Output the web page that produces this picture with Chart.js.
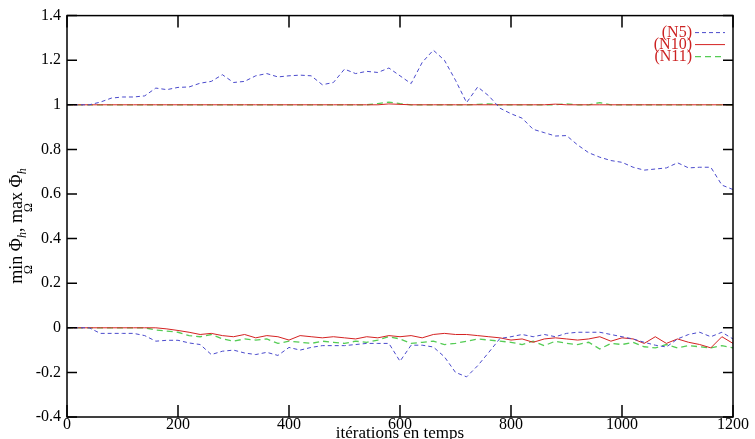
<!DOCTYPE html>
<html>
<head>
<meta charset="utf-8">
<script src="https://cdn.jsdelivr.net/npm/chart.js@4.4.1/dist/chart.umd.min.js"></script>
<style>
  body { margin: 0; background: #fff; }
  canvas { display: block; }
</style>
</head>
<body>
<canvas id="chart" width="755" height="439"></canvas>
<script>
// itérations (pas de 20)
const iterations = [];
for (let i = 0; i <= 1200; i += 20) iterations.push(i);

// max Φh
const n5Max = [1.0, 1.0, 1.0, 1.012, 1.03, 1.035, 1.035, 1.04, 1.075, 1.068,
  1.078, 1.08, 1.097, 1.105, 1.135, 1.1, 1.105, 1.13, 1.14, 1.125,
  1.13, 1.133, 1.13, 1.09, 1.1, 1.16, 1.14, 1.15, 1.145, 1.165,
  1.13, 1.095, 1.19, 1.245, 1.2, 1.11, 1.01, 1.08, 1.04, 0.985,
  0.96, 0.94, 0.89, 0.875, 0.86, 0.862, 0.82, 0.785, 0.765, 0.75,
  0.742, 0.72, 0.707, 0.712, 0.717, 0.74, 0.717, 0.72, 0.72, 0.64, 0.62];
const n10Max = [1, 1, 1, 1, 1, 1, 1, 1, 1, 1,
  1, 1, 1, 1, 1, 1, 1, 1, 1, 1,
  1, 1, 1, 1, 1, 1, 1, 1, 1, 1.004,
  1.002, 1, 1, 1, 1, 1, 1, 1, 1, 1,
  1, 1, 1, 1, 1.003, 1, 1, 1, 1, 1,
  1, 1, 1, 1, 1, 1, 1, 1, 1, 1, 1];
const n11Max = [1, 1, 1, 1, 1, 1, 1, 1, 1, 1,
  1, 1, 1, 1, 1, 1, 1, 1, 1, 1,
  1, 1, 1, 1, 1, 1, 1, 1, 1.005, 1.012,
  1.005, 1, 1, 1, 1, 1, 1, 1.002, 1.004, 1,
  1, 1, 1, 1, 1, 1.004, 1, 1, 1.01, 1,
  1, 1, 1, 1, 1, 1, 1, 1, 1, 1, 1];

// min Φh
const n5Min = [0, 0, 0, -0.025, -0.025, -0.025, -0.025, -0.035, -0.06, -0.056,
  -0.056, -0.068, -0.075, -0.12, -0.105, -0.1, -0.113, -0.12, -0.11, -0.124,
  -0.088, -0.1, -0.088, -0.08, -0.08, -0.08, -0.075, -0.07, -0.07, -0.07,
  -0.15, -0.078, -0.078, -0.086, -0.13, -0.2, -0.22, -0.17, -0.11, -0.048,
  -0.04, -0.03, -0.04, -0.03, -0.04, -0.025, -0.02, -0.02, -0.02, -0.03,
  -0.04, -0.05, -0.065, -0.078, -0.086, -0.05, -0.03, -0.02, -0.04, -0.02, -0.05];
const n10Min = [0, 0, 0, 0, 0, 0, 0, 0, 0, -0.005,
  -0.012, -0.02, -0.03, -0.025, -0.035, -0.04, -0.03, -0.045, -0.035, -0.04,
  -0.055, -0.035, -0.04, -0.045, -0.04, -0.045, -0.05, -0.04, -0.045, -0.035,
  -0.04, -0.035, -0.045, -0.03, -0.025, -0.03, -0.03, -0.035, -0.04, -0.045,
  -0.055, -0.05, -0.065, -0.05, -0.045, -0.05, -0.055, -0.05, -0.04, -0.06,
  -0.045, -0.05, -0.07, -0.04, -0.07, -0.05, -0.065, -0.075, -0.09, -0.04, -0.07];
const n11Min = [0, 0, 0, 0, 0, 0, 0, 0, -0.01, -0.015,
  -0.02, -0.035, -0.04, -0.03, -0.05, -0.06, -0.05, -0.055, -0.05, -0.07,
  -0.06, -0.065, -0.07, -0.06, -0.065, -0.07, -0.06, -0.065, -0.055, -0.04,
  -0.05, -0.07, -0.065, -0.06, -0.075, -0.07, -0.06, -0.05, -0.055, -0.06,
  -0.065, -0.075, -0.06, -0.08, -0.06, -0.07, -0.075, -0.065, -0.095, -0.07,
  -0.075, -0.065, -0.085, -0.09, -0.075, -0.09, -0.08, -0.085, -0.09, -0.08, -0.09];

const xTicks = [0, 200, 400, 600, 800, 1000, 1200];
const yTicks = [-0.4, -0.2, 0, 0.2, 0.4, 0.6, 0.8, 1, 1.2, 1.4];

const serif = '"Liberation Serif", "DejaVu Serif", serif';

function pts(values) {
  return values.map((v, i) => ({ x: iterations[i], y: v }));
}

const styleN5 = { borderColor: '#4a4acc', borderWidth: 1, borderDash: [4, 3] };
const styleN10 = { borderColor: '#d42222', borderWidth: 1, borderDash: [] };
const styleN11 = { borderColor: '#55cc55', borderWidth: 1.3, borderDash: [6, 4] };

const datasets = [
  Object.assign({ label: '(N5)', data: pts(n5Max), inLegend: true }, styleN5),
  Object.assign({ label: '(N10)', data: pts(n10Max), inLegend: true }, styleN10),
  Object.assign({ label: '(N11)', data: pts(n11Max), inLegend: true }, styleN11),
  Object.assign({ label: '(N5) min', data: pts(n5Min) }, styleN5),
  Object.assign({ label: '(N10) min', data: pts(n10Min) }, styleN10),
  Object.assign({ label: '(N11) min', data: pts(n11Min) }, styleN11)
];

// cadre, graduations vers l'intérieur, légende et titre de l'axe y
const framePlugin = {
  id: 'frame',
  afterDraw(chart) {
    const ctx = chart.ctx;
    const a = chart.chartArea;
    const xs = chart.scales.x, ys = chart.scales.y;
    ctx.save();
    ctx.strokeStyle = '#000';
    ctx.lineWidth = 1.5;
    ctx.strokeRect(a.left, a.top, a.right - a.left, a.bottom - a.top);
    ctx.beginPath();
    xTicks.forEach(v => {
      const px = xs.getPixelForValue(v);
      ctx.moveTo(px, a.bottom); ctx.lineTo(px, a.bottom - 12);
      ctx.moveTo(px, a.top); ctx.lineTo(px, a.top + 12);
    });
    yTicks.forEach(v => {
      const py = ys.getPixelForValue(v);
      ctx.moveTo(a.left, py); ctx.lineTo(a.left + 10, py);
      ctx.moveTo(a.right, py); ctx.lineTo(a.right - 10, py);
    });
    ctx.stroke();

    // légende
    ctx.font = '16px ' + serif;
    ctx.textAlign = 'right';
    ctx.textBaseline = 'middle';
    let y = a.top + 17;
    chart.data.datasets.filter(d => d.inLegend).forEach(d => {
      ctx.fillStyle = '#cc2222';
      ctx.fillText(d.label, a.right - 41, y);
      ctx.strokeStyle = d.borderColor;
      ctx.lineWidth = d.borderWidth;
      ctx.setLineDash(d.borderDash);
      ctx.beginPath();
      ctx.moveTo(a.right - 38, y);
      ctx.lineTo(a.right - 8, y);
      ctx.stroke();
      ctx.setLineDash([]);
      y += 12;
    });

    // titre y : min_Ω Φ_h, max_Ω Φ_h
    ctx.translate(22, 0);
    ctx.rotate(-Math.PI / 2);
    const big = '18px ' + serif, small = '12px ' + serif, smallIt = 'italic 12px ' + serif;
    const parts = [
      ['min', big, 0, 'Ω'], [' Φ', big, 0], ['h', smallIt, 4], [', ', big, 0],
      ['max', big, 0, 'Ω'], [' Φ', big, 0], ['h', smallIt, 4]
    ];
    let total = 0;
    parts.forEach(p => { ctx.font = p[1]; total += ctx.measureText(p[0]).width; });
    let x = -(226 + total / 2);
    ctx.textAlign = 'left';
    ctx.textBaseline = 'alphabetic';
    ctx.fillStyle = '#000';
    parts.forEach(p => {
      ctx.font = p[1];
      const w = ctx.measureText(p[0]).width;
      ctx.fillText(p[0], x, p[2]);
      if (p[3]) {
        ctx.font = small;
        ctx.textAlign = 'center';
        ctx.fillText(p[3], x + w / 2, 10);
        ctx.textAlign = 'left';
      }
      x += w;
    });
    ctx.restore();
  }
};

new Chart(document.getElementById('chart').getContext('2d'), {
  type: 'line',
  data: { datasets: datasets },
  options: {
    responsive: false,
    animation: false,
    devicePixelRatio: 1,
    elements: { point: { radius: 0 }, line: { tension: 0, fill: false } },
    layout: { padding: { top: 14, right: 22, left: 0, bottom: 0 } },
    plugins: { legend: { display: false }, tooltip: { enabled: false } },
    scales: {
      x: {
        type: 'linear',
        min: 0, max: 1200,
        afterFit: s => { s.height = 22; },
        afterBuildTicks: s => { s.ticks = xTicks.map(v => ({ value: v })); },
        grid: { display: false, drawTicks: false },
        border: { display: false },
        ticks: { color: '#000', padding: -2, maxRotation: 0, font: { family: serif, size: 16 },
          callback: v => String(v) },
        title: { display: true, text: 'itérations en temps', color: '#000', padding: 0,
          font: { family: serif, size: 17, lineHeight: 0.7 } }
      },
      y: {
        type: 'linear',
        min: -0.4, max: 1.4,
        afterFit: s => { s.width = 67; },
        afterBuildTicks: s => { s.ticks = yTicks.map(v => ({ value: v })); },
        grid: { display: false, drawTicks: false },
        border: { display: false },
        ticks: { color: '#000', padding: 6, font: { family: serif, size: 16 },
          callback: v => String(Number(v.toFixed(1))) }
      }
    }
  },
  plugins: [framePlugin]
});
</script>
</body>
</html>
